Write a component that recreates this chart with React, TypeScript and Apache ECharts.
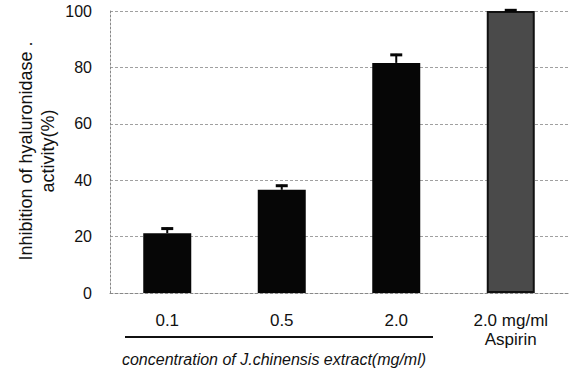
import React, { useEffect, useRef } from "react";
import * as echarts from "echarts";

const categories = ["0.1", "0.5", "2.0", "2.0 mg/ml\nAspirin"];
const means = [21.2, 36.6, 81.6, 100];
const errors = [2.0, 1.8, 3.2, 0.6];
const yTicks = [0, 20, 40, 60, 80, 100];
const yTitle1 = "Inhibition of hyaluronidase .";
const yTitle2 = "activity(%)";
const xTitle = "concentration of J.chinensis extract(mg/ml)";

const FONT = "'Liberation Sans', Arial, Helvetica, sans-serif";

export default function App() {
  const ref = useRef<HTMLDivElement>(null);
  useEffect(() => {
    if (!ref.current) return;
    const chart = echarts.init(ref.current, undefined, { renderer: "svg" });
    const barData = means.map((v, i) =>
      i === 3
        ? {
            value: v,
            itemStyle: { color: "#4a4a4a", borderColor: "#111", borderWidth: 2 },
          }
        : { value: v, itemStyle: { color: "#060606" } }
    );
    const errData = means.map((v, i) => [i, v, errors[i]]);
    chart.setOption({
      animation: false,
      backgroundColor: "#fff",
      textStyle: { fontFamily: FONT },
      grid: { left: 110, right: 5, top: 11, bottom: 78, containLabel: false },
      xAxis: {
        type: "category",
        data: categories,
        axisLine: { show: true, lineStyle: { color: "#888", type: [3, 2], width: 1 } },
        axisTick: { show: false },
        axisLabel: {
          color: "#111",
          fontSize: 17,
          fontFamily: FONT,
          margin: 18,
          lineHeight: 19,
          interval: 0,
        },
      },
      yAxis: {
        type: "value",
        min: yTicks[0],
        max: yTicks[yTicks.length - 1],
        interval: 20,
        axisLine: { show: true, lineStyle: { color: "#888", type: [2, 2], width: 1 } },
        axisTick: { show: false },
        axisLabel: { color: "#111", fontSize: 16, fontFamily: FONT, margin: 18 },
        splitLine: { show: true, lineStyle: { color: "#a0a0a0", type: [3, 2], width: 1 } },
      },
      series: [
        {
          type: "bar",
          data: barData,
          barWidth: 48,
          z: 2,
        },
        {
          type: "custom",
          z: 3,
          data: errData,
          renderItem: (params: any, api: any) => {
            const idx = api.value(0);
            const top = api.coord([idx, api.value(1)]);
            const hi = api.coord([idx, api.value(1) + api.value(2)]);
            const capW = 12;
            return {
              type: "group",
              children: [
                {
                  type: "line",
                  shape: { x1: top[0], y1: top[1], x2: hi[0], y2: hi[1] },
                  style: { stroke: "#060606", lineWidth: 2 },
                },
                {
                  type: "line",
                  shape: { x1: hi[0] - capW / 2, y1: hi[1] + 1, x2: hi[0] + capW / 2, y2: hi[1] + 1 },
                  style: { stroke: "#060606", lineWidth: 3 },
                },
              ],
            };
          },
        },
      ],
      graphic: [
        {
          type: "text",
          x: 26,
          y: 151,
          rotation: Math.PI / 2,
          style: {
            text: yTitle1,
            fontSize: 18,
            fontFamily: FONT,
            fill: "#111",
            align: "center",
            verticalAlign: "middle",
          },
        },
        {
          type: "text",
          x: 48,
          y: 151,
          rotation: Math.PI / 2,
          style: {
            text: yTitle2,
            fontSize: 18,
            fontFamily: FONT,
            fill: "#111",
            align: "center",
            verticalAlign: "middle",
          },
        },
        {
          type: "line",
          shape: { x1: 125, y1: 337, x2: 433, y2: 337 },
          style: { stroke: "#111", lineWidth: 2 },
        },
        {
          type: "text",
          x: 274,
          y: 359,
          style: {
            text: xTitle,
            fontSize: 16,
            fontStyle: "italic",
            fontFamily: FONT,
            fill: "#111",
            align: "center",
            verticalAlign: "middle",
          },
        },
      ],
    });
    return () => chart.dispose();
  }, []);
  return <div ref={ref} style={{ width: 573, height: 371, position: "absolute", left: 0, top: 0 }} />;
}
